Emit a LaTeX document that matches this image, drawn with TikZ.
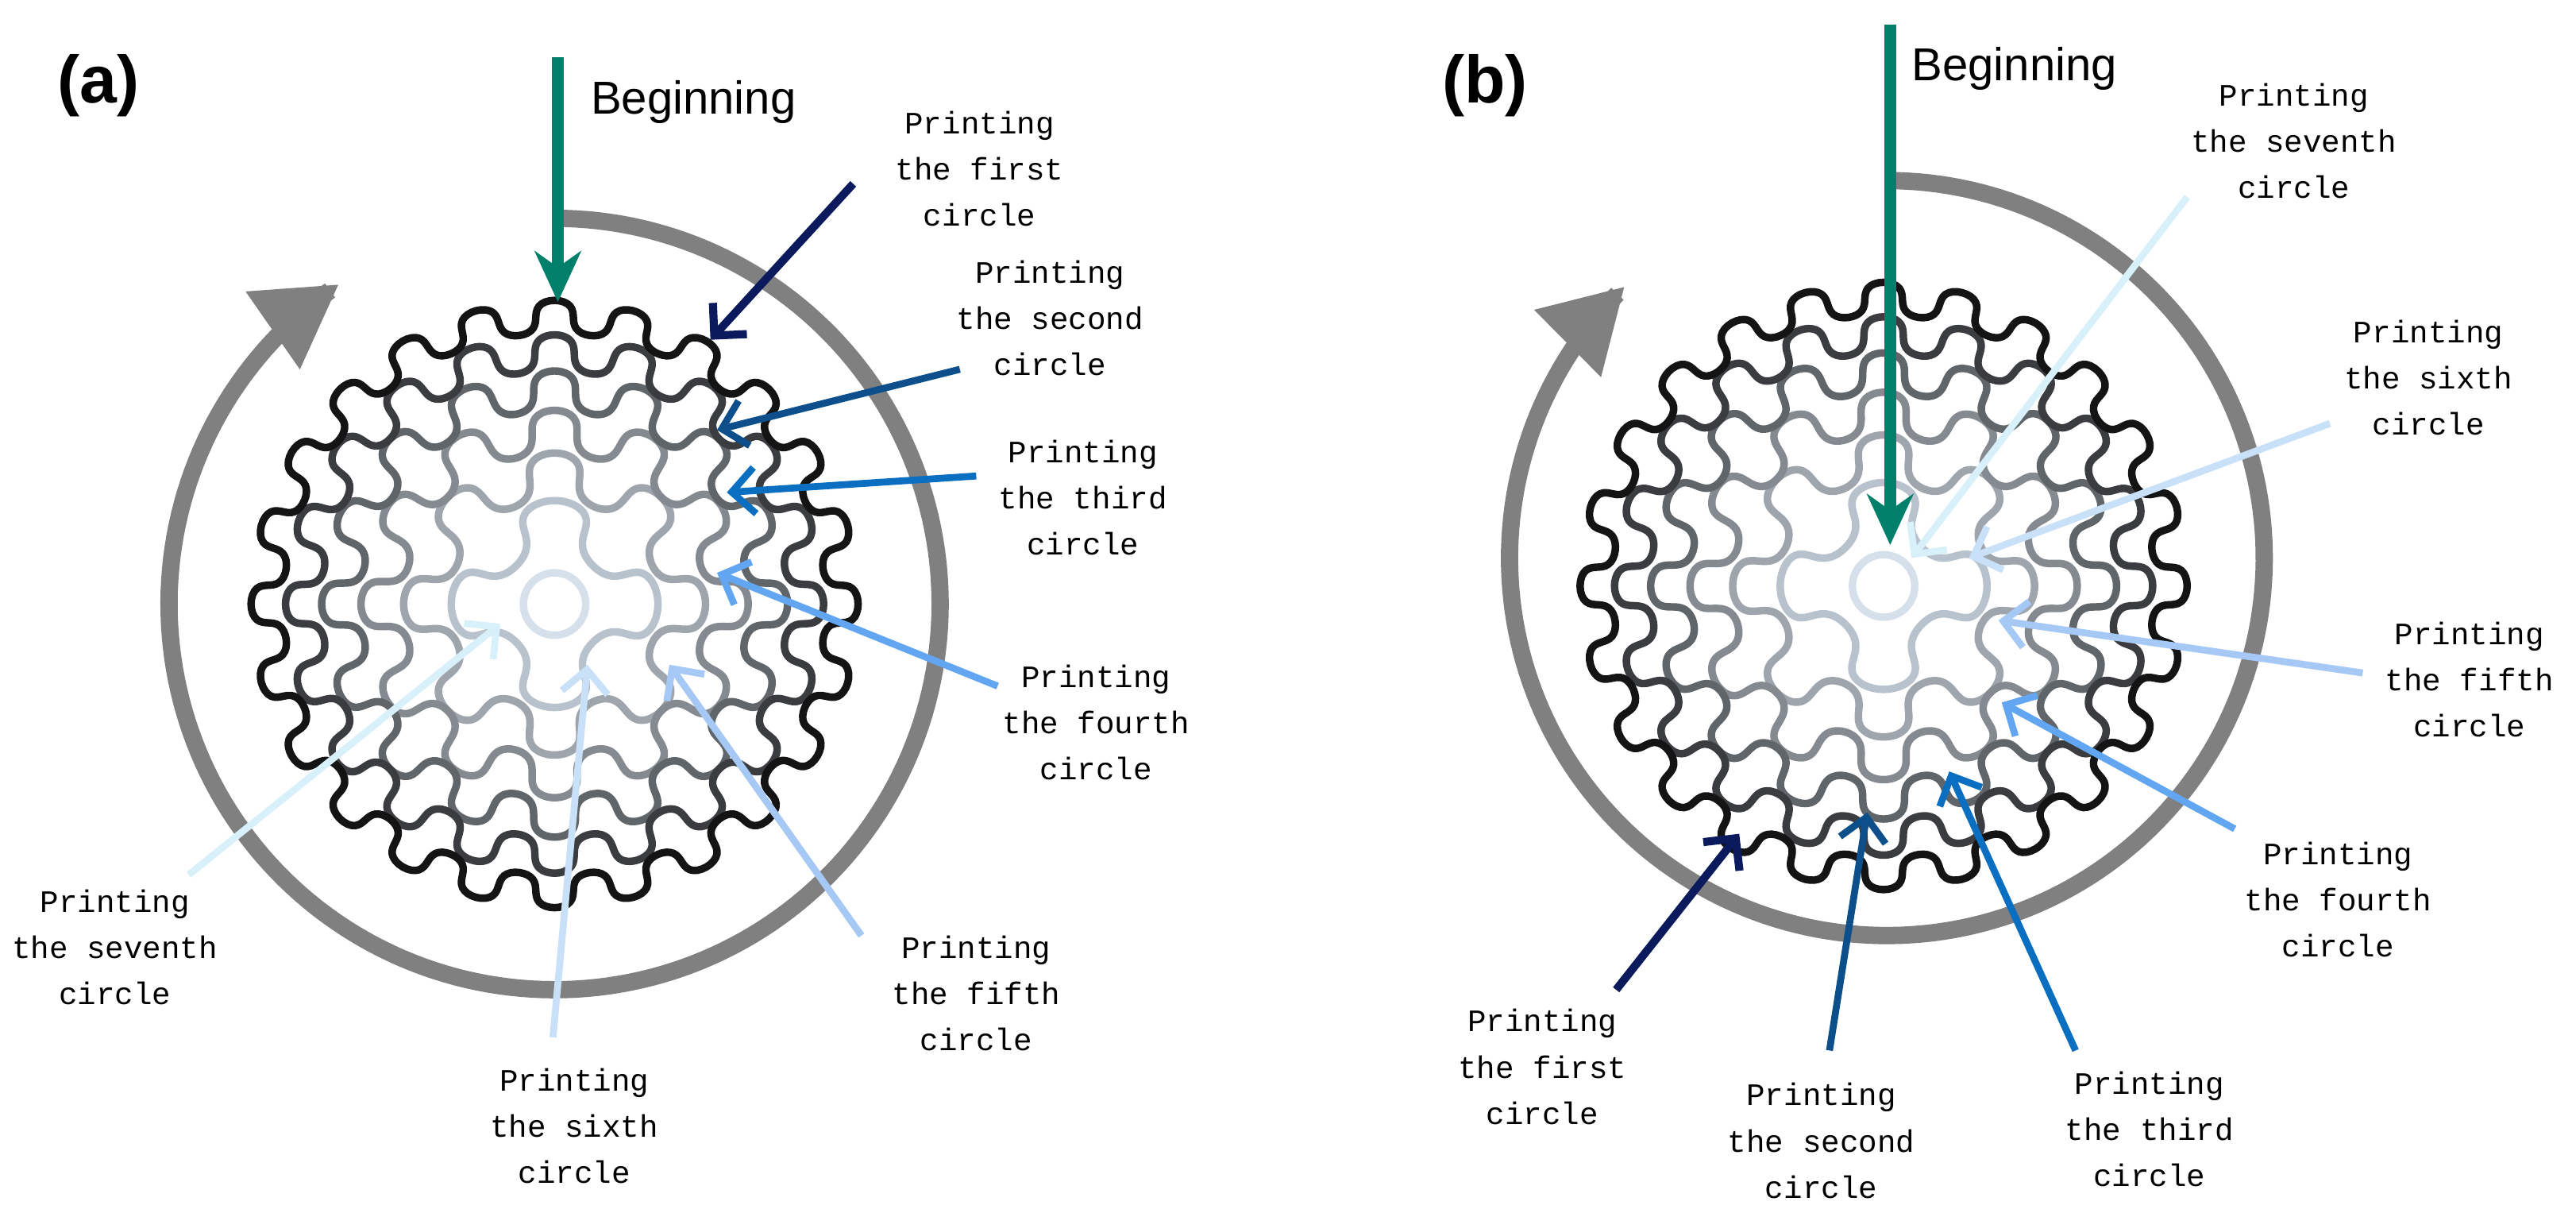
\documentclass[tikz,border=0pt]{standalone}
\usepackage{fontspec}
\setmainfont{Liberation Sans}
\newfontfamily\labfont{Liberation Mono}
\usetikzlibrary{arrows.meta}
\definecolor{gr}{HTML}{00806A}
\definecolor{cA}{HTML}{0A1A5C}
\definecolor{cB}{HTML}{0D4F8B}
\definecolor{cC}{HTML}{0A6FC0}
\definecolor{cD}{HTML}{62A6F2}
\definecolor{cE}{HTML}{A5C8F5}
\definecolor{cF}{HTML}{C8E0F8}
\definecolor{cG}{HTML}{D8F0FA}
\definecolor{r1}{HTML}{D5E0EA}
\definecolor{r2}{HTML}{B8C2CC}
\definecolor{r3}{HTML}{9EA5AD}
\definecolor{r4}{HTML}{858A90}
\definecolor{r5}{HTML}{60656A}
\definecolor{r6}{HTML}{3A3C40}
\definecolor{r7}{HTML}{141414}
\tikzset{
 lab/.style={align=center,font=\labfont\fontsize{27}{40}\selectfont,inner sep=0pt},
 beg/.style={font=\fontsize{40}{44}\selectfont,inner sep=0pt,anchor=west},
 panel/.style={font=\bfseries\fontsize{58}{60}\selectfont,inner sep=0pt},
 garrow/.style={gr,line width=10pt,-{Stealth[length=44pt,width=40pt,inset=14pt]}},
 carrow/.style={line width=6pt,-{Straight Barb[length=20pt,width=40pt]}},
 bigarc/.style={color=black!50,line width=15pt,-{Triangle[length=70pt,width=78pt]}},
 ring/.style={line width=6.5pt,line join=round}
}
\newcommand\rings[2]{%
 \draw[ring,r1] plot[domain=0:360,samples=73] ({#1+19*cos(\x)},{#2-19*sin(\x)});
 \foreach \R/\N/\A/\c in {48/4/15/r2,78/8/14/r3,105/12/13/r4,130/16/12/r5,153/20/11/r6,175/24/10/r7}{
  \draw[ring,\c] plot[domain=0:360,samples=721] ({#1+(\R+\A*cos(\N*(\x-90)))*cos(\x+24/\N*sin(2*\N*(\x-90)))},{#2-(\R+\A*cos(\N*(\x-90)))*sin(\x+24/\N*sin(2*\N*(\x-90)))}) -- cycle;}
}
\begin{document}
\begin{tikzpicture}[x=0.05cm,y=-0.05cm]
\useasboundingbox (0,0) rectangle (1570,738.6);
% ---------- panel a
\node[panel] (pa) at (60,52) {(a)};
\draw[bigarc] plot[domain=90:-236,samples=200] ({338+235*cos(\x)},{368-235*sin(\x)});
\rings{338}{368}
\coordinate (ga0) at (340,35); \coordinate (ga1) at (340,184);
\draw[garrow] (ga0) -- (ga1);
\node[beg] (bega) at (360,62) {Beginning};
\node[lab] (a1) at (597,103) {Printing\\the first\\circle};
\node[lab] (a2) at (640,194) {Printing\\the second\\circle};
\node[lab] (a3) at (660,303) {Printing\\the third\\circle};
\node[lab] (a4) at (668,440) {Printing\\the fourth\\circle};
\node[lab] (a5) at (595,605) {Printing\\the fifth\\circle};
\node[lab] (a6) at (350,686) {Printing\\the sixth\\circle};
\node[lab] (a7) at (70,577) {Printing\\the seventh\\circle};
\coordinate (sa1) at (520,112); \coordinate (ea1) at (433,207);
\coordinate (sa2) at (585,225); \coordinate (ea2) at (437,262);
\coordinate (sa3) at (595,290); \coordinate (ea3) at (443,300);
\coordinate (sa4) at (608,418); \coordinate (ea4) at (437,349);
\coordinate (sa5) at (525,570); \coordinate (ea5) at (408,405);
\coordinate (sa6) at (337,632); \coordinate (ea6) at (358,405);
\coordinate (sa7) at (115,533); \coordinate (ea7) at (305,380);
\draw[carrow,cA,line width=7pt] (sa1) -- (ea1);
\draw[carrow,cB] (sa2) -- (ea2);
\draw[carrow,cC] (sa3) -- (ea3);
\draw[carrow,cD] (sa4) -- (ea4);
\draw[carrow,cE] (sa5) -- (ea5);
\draw[carrow,cF] (sa6) -- (ea6);
\draw[carrow,cG] (sa7) -- (ea7);
% ---------- panel b
\node[panel] (pb) at (905,52) {(b)};
\draw[bigarc] plot[domain=90:-226,samples=200] ({1150+230*cos(\x)},{340-230*sin(\x)});
\rings{1148}{357}
\node[lab] (b7) at (1398,86) {Printing\\the seventh\\circle};
\node[lab] (b6) at (1480,230) {Printing\\the sixth\\circle};
\node[lab] (b5) at (1505,414) {Printing\\the fifth\\circle};
\node[lab] (b4) at (1425,548) {Printing\\the fourth\\circle};
\node[lab] (b3) at (1310,688) {Printing\\the third\\circle};
\node[lab] (b2) at (1110,695) {Printing\\the second\\circle};
\node[lab] (b1) at (940,650) {Printing\\the first\\circle};
\coordinate (sb7) at (1333,120); \coordinate (eb7) at (1165,340);
\coordinate (sb6) at (1420,258); \coordinate (eb6) at (1200,340);
\coordinate (sb5) at (1440,410); \coordinate (eb5) at (1218,378);
\coordinate (sb4) at (1362,505); \coordinate (eb4) at (1220,428);
\coordinate (sb3) at (1265,640); \coordinate (eb3) at (1188,470);
\coordinate (sb2) at (1115,640); \coordinate (eb2) at (1138,495);
\coordinate (sb1) at (985,603); \coordinate (eb1) at (1060,508);
\draw[carrow,cG] (sb7) -- (eb7);
\draw[carrow,cF] (sb6) -- (eb6);
\draw[carrow,cE] (sb5) -- (eb5);
\draw[carrow,cD] (sb4) -- (eb4);
\draw[carrow,cC] (sb3) -- (eb3);
\draw[carrow,cB] (sb2) -- (eb2);
\draw[carrow,cA,line width=7pt] (sb1) -- (eb1);
\coordinate (gb0) at (1152,15); \coordinate (gb1) at (1152,332);
\draw[garrow] (gb0) -- (gb1);
\node[beg] (begb) at (1165,42) {Beginning};
\end{tikzpicture}
\end{document}
